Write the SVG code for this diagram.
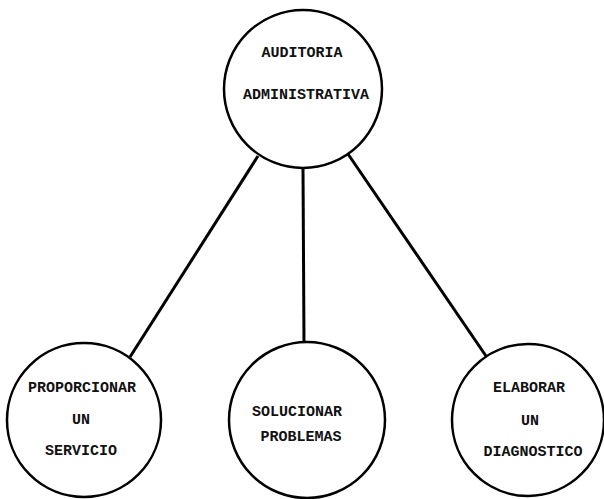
<svg xmlns="http://www.w3.org/2000/svg" width="604" height="499" viewBox="0 0 604 499">
<style>
.n{fill:#fff;stroke:#000;stroke-width:2.5}
.c{stroke:#000;stroke-width:3;fill:none}
.t{font-family:"Liberation Mono","DejaVu Sans Mono",monospace;font-weight:bold;font-size:15px;text-anchor:middle;fill:#111}
</style>
<rect width="604" height="499" fill="#fff"/>
<g id="connectors">
<line class="c" x1="258" y1="156" x2="130" y2="357"/>
<line class="c" x1="303" y1="168" x2="304" y2="343"/>
<line class="c" x1="348" y1="154" x2="486" y2="356"/>
</g>
<g id="auditoria">
<circle class="n" cx="303" cy="89" r="79"/>
<text class="t" x="302" y="57">AUDITORIA</text>
<text class="t" x="306" y="99">ADMINISTRATIVA</text>
</g>
<g id="proporcionar">
<circle class="n" cx="84" cy="420" r="77"/>
<text class="t" x="82" y="392">PROPORCIONAR</text>
<text class="t" x="81" y="424">UN</text>
<text class="t" x="81" y="455">SERVICIO</text>
</g>
<g id="solucionar">
<circle class="n" cx="307" cy="420" r="78"/>
<text class="t" x="297" y="416">SOLUCIONAR</text>
<text class="t" x="301" y="441">PROBLEMAS</text>
</g>
<g id="elaborar">
<circle class="n" cx="528" cy="420" r="76"/>
<text class="t" x="529" y="392">ELABORAR</text>
<text class="t" x="530" y="425">UN</text>
<text class="t" x="533" y="456">DIAGNOSTICO</text>
</g>
</svg>
